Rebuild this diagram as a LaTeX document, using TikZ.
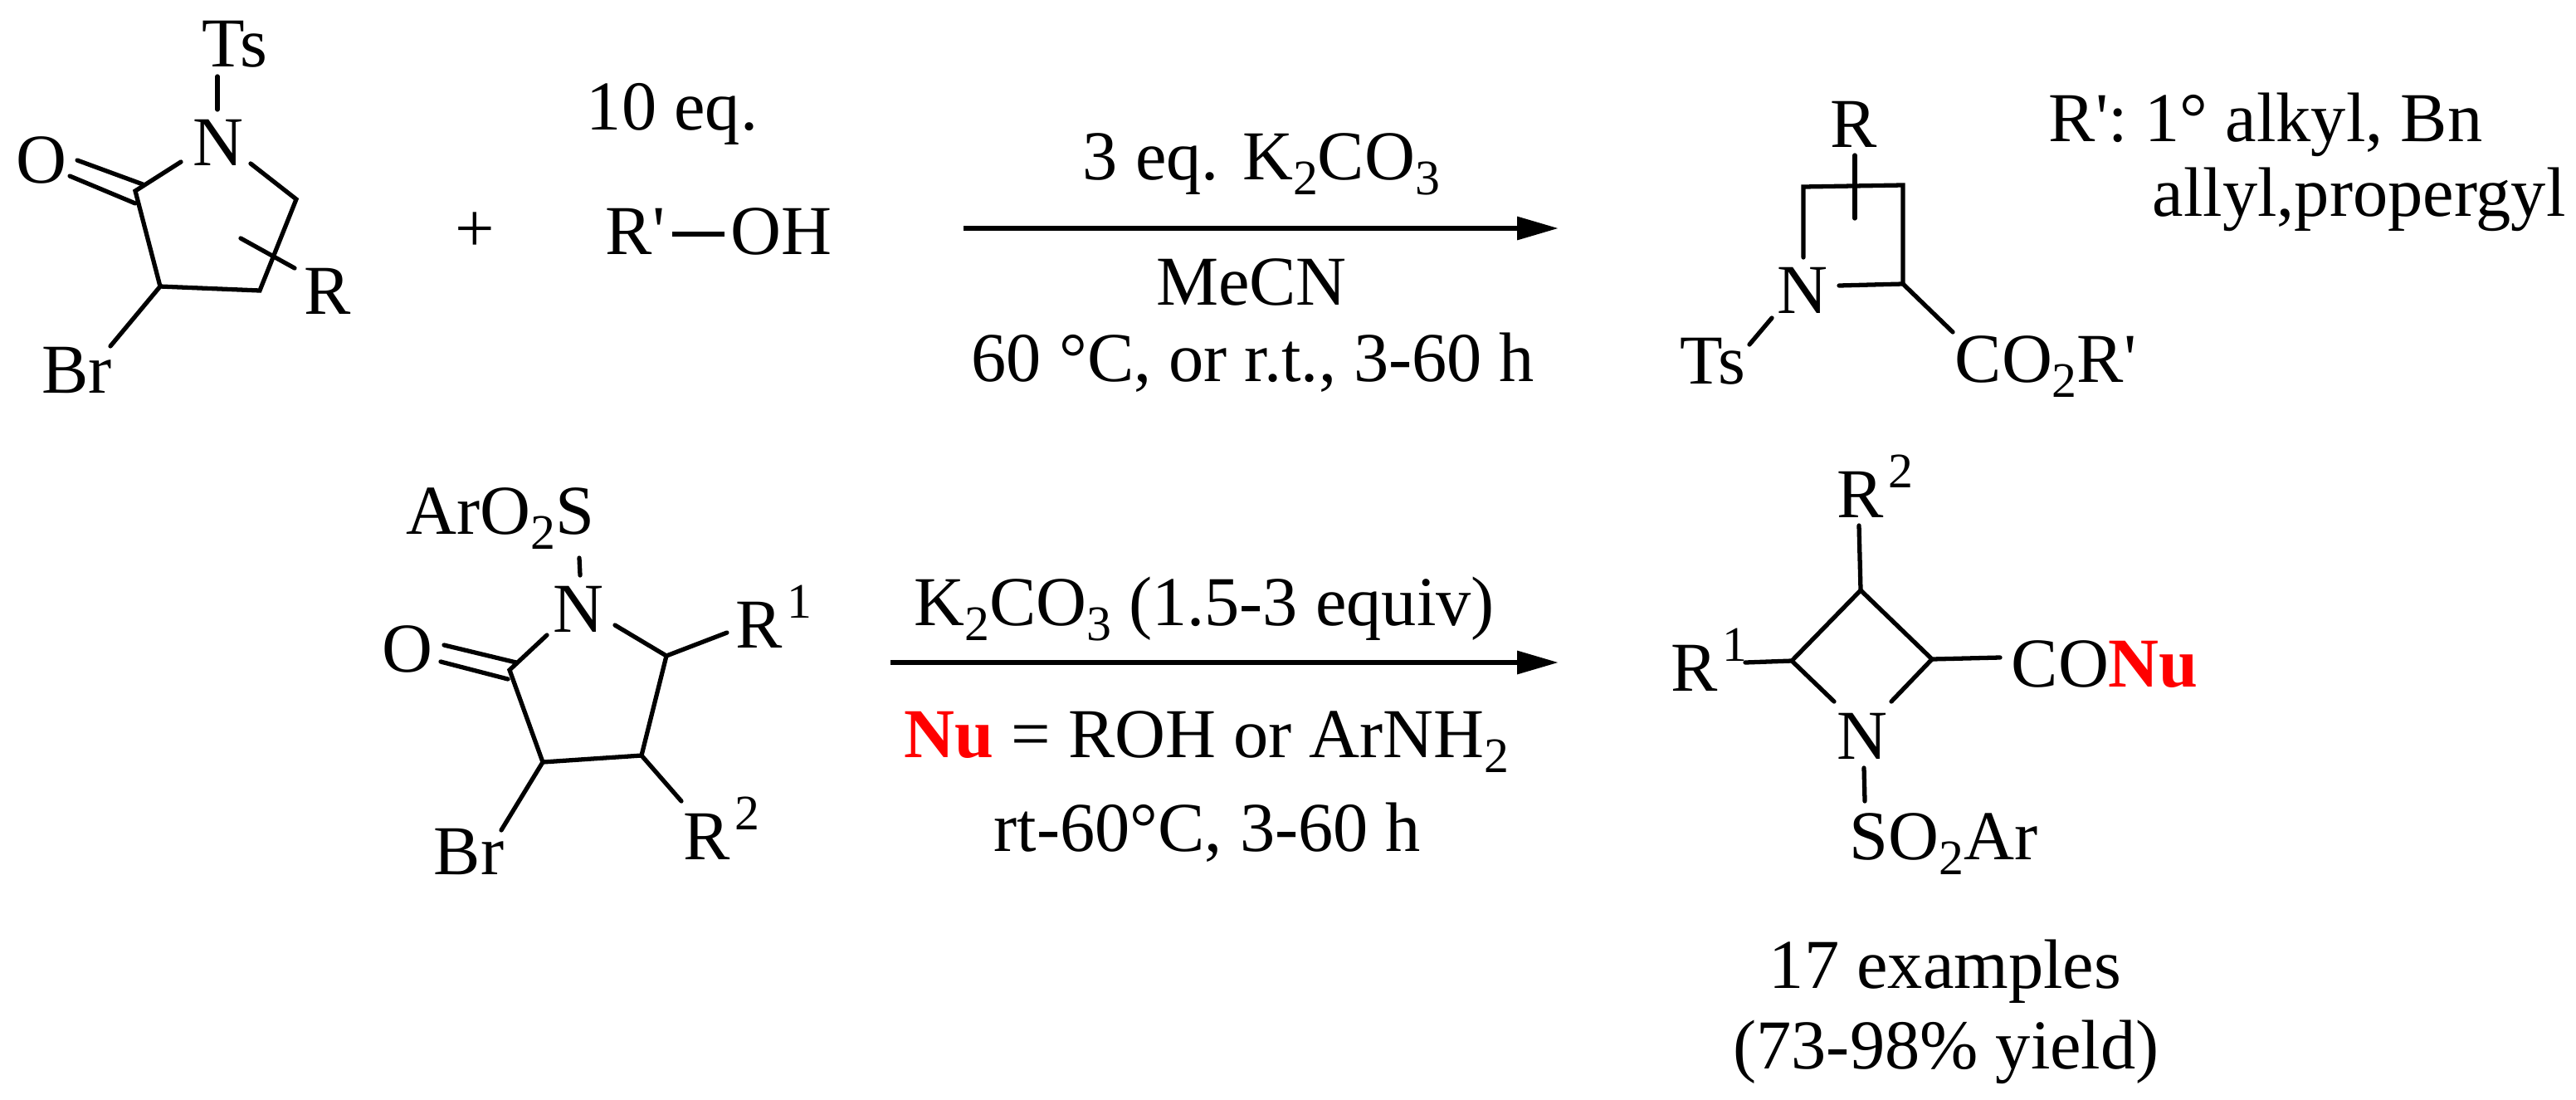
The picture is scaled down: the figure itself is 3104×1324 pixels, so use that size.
\documentclass[tikz,border=0pt]{standalone}
\usepackage{fontspec}
\setmainfont{Liberation Serif}
\usetikzlibrary{arrows.meta}
\newcommand{\supr}[1]{\kern1.5pt\raisebox{0.42em}{\fontsize{17}{17}\selectfont #1}}
\newcommand{\subr}[1]{\raisebox{-0.22em}{\fontsize{17}{17}\selectfont #1}}
\begin{document}
\begin{tikzpicture}[x=0.01cm,y=-0.01cm,
  bond/.style={line width=1.5pt,line cap=round,line join=miter},
  txt/.style={inner sep=0pt,font=\fontsize{24}{28}\selectfont},
  rxn/.style={line width=1.8pt,-{Triangle[length=0.5cm,width=0.27cm]}}]
\useasboundingbox (0,0) rectangle (3104,1324);
% ---------- molecule 1 ----------
\node[txt,anchor=base] (ts1) at (283,80) {Ts};
\node[txt] (n1) at (263,172) {N};
\node[txt] (o1) at (50,193) {O};
\node[txt,anchor=base] (r1) at (395,378) {R};
\node[txt,anchor=base west] (br1) at (50,473) {Br};
\coordinate (a1) at (163,230); \coordinate (a2) at (193,345);
\coordinate (a3) at (313,350); \coordinate (a4) at (357,240);
\coordinate (n1t) at (262,92); \coordinate (n1b) at (262,132);
\coordinate (n1l) at (218,195); \coordinate (n1r) at (302,197);
\coordinate (o1a) at (93,193); \coordinate (o1aa) at (172,222);
\coordinate (o1b) at (84,212); \coordinate (o1bb) at (163,245);
\coordinate (rs) at (290,287); \coordinate (re) at (355,323);
\coordinate (bre) at (133,417);
\draw[bond] (n1t) -- (n1b);
\draw[bond] (n1l) -- (a1) -- (a2) -- (a3) -- (a4) -- (n1r);
\draw[bond] (o1a) -- (o1aa); \draw[bond] (o1b) -- (o1bb);
\draw[bond] (rs) -- (re);
\draw[bond] (a2) -- (bre);
% plus and alcohol
\node[txt] (plus) at (572,280) {+};
\node[txt,anchor=base] (eq10) at (810,156) {10 eq.};
\node[txt,anchor=base west] (rp) at (729,306) {R\textquotesingle};
\node[txt,anchor=base west] (oh) at (880,306) {OH};
\coordinate (ohb1) at (810,282); \coordinate (ohb2) at (873,282);
\draw[bond,line cap=butt] (ohb1) -- (ohb2);
% ---------- arrow 1 ----------
\coordinate (ar1s) at (1161,275); \coordinate (ar1e) at (1878,275);
\draw[rxn] (ar1s) -- (ar1e);
\node[txt,anchor=base] (c1) at (1520,216) {3 eq. K\subr{2}CO\subr{3}};
\node[txt,anchor=base] (c2) at (1508,367) {MeCN};
\node[txt,anchor=base] (c3) at (1510,459) {60 °C, or r.t., 3-60 h};
% ---------- molecule 2 ----------
\coordinate (q1) at (2173,225); \coordinate (q2) at (2293,223);
\coordinate (q3) at (2293,342);
\node[txt] (n2) at (2172,350) {N};
\coordinate (q1e) at (2173,310); \coordinate (n2r) at (2216,344);
\draw[bond] (q1e) -- (q1) -- (q2) -- (q3) -- (n2r);
\node[txt,anchor=base] (r2) at (2234,177) {R};
\coordinate (rb1) at (2235,187); \coordinate (rb2) at (2235,263);
\draw[bond] (rb1) -- (rb2);
\node[txt,anchor=base] (ts2) at (2064,462) {Ts};
\coordinate (tsa) at (2135,383); \coordinate (tsb) at (2108,415);
\draw[bond] (tsa) -- (tsb);
\coordinate (coe) at (2353,400);
\draw[bond] (q3) -- (coe);
\node[txt,anchor=base west] (co2r) at (2355,460) {CO\subr{2}R\textquotesingle};
\node[txt,anchor=base west] (rdef1) at (2468,170) {R\textquotesingle: 1° alkyl, Bn};
\node[txt,anchor=base west] (rdef2) at (2593,260) {allyl,propergyl};
% ---------- molecule 3 ----------
\node[txt,anchor=base west] (so3) at (489,643) {ArO\subr{2}S};
\node[txt] (n3) at (697,734) {N};
\coordinate (s3a) at (698,672); \coordinate (s3b) at (699,693);
\draw[bond] (s3a) -- (s3b);
\coordinate (d1) at (614,807); \coordinate (d2) at (654,918);
\coordinate (d3) at (773,910); \coordinate (d4) at (803,790);
\coordinate (n3l) at (659,765); \coordinate (n3r) at (741,753);
\draw[bond] (n3l) -- (d1) -- (d2) -- (d3) -- (d4) -- (n3r);
\node[txt] (o3) at (491,782) {O};
\coordinate (o3a) at (535,777); \coordinate (o3aa) at (622,798);
\coordinate (o3b) at (531,797); \coordinate (o3bb) at (612,818);
\draw[bond] (o3a) -- (o3aa); \draw[bond] (o3b) -- (o3bb);
\coordinate (r13) at (876,762);
\draw[bond] (d4) -- (r13);
\node[txt,anchor=base west] (r1m3) at (886,780) {R\supr{1}};
\coordinate (br3) at (604,1000);
\draw[bond] (d2) -- (br3);
\node[txt,anchor=base west] (br3t) at (522,1053) {Br};
\coordinate (r23) at (821,965);
\draw[bond] (d3) -- (r23);
\node[txt,anchor=base west] (r2m3) at (823,1035) {R\supr{2}};
% ---------- arrow 2 ----------
\coordinate (ar2s) at (1073,798); \coordinate (ar2e) at (1878,798);
\draw[rxn] (ar2s) -- (ar2e);
\node[txt,anchor=base] (k1) at (1451,753) {K\subr{2}CO\subr{3} (1.5-3 equiv)};
\node[txt,anchor=base] (k2) at (1454,912) {\textcolor{red}{\textbf{Nu}} = ROH or ArNH\subr{2}};
\node[txt,anchor=base] (k3) at (1455,1025) {rt-60°C, 3-60 h};
% ---------- molecule 4 ----------
\coordinate (t4) at (2242,711); \coordinate (l4) at (2159,796);
\coordinate (r4) at (2328,794);
\node[txt] (n4) at (2244,887) {N};
\coordinate (n4l) at (2210,845); \coordinate (n4r) at (2279,845);
\draw[bond] (n4l) -- (l4) -- (t4) -- (r4) -- (n4r);
\coordinate (r2b) at (2240,633);
\draw[bond] (t4) -- (r2b);
\node[txt,anchor=base west] (r2m4) at (2213,623) {R\supr{2}};
\coordinate (r1b) at (2103,798);
\draw[bond] (l4) -- (r1b);
\node[txt,anchor=base west] (r1m4) at (2013,832) {R\supr{1}};
\coordinate (cob) at (2410,792);
\draw[bond] (r4) -- (cob);
\node[txt,anchor=base west] (conu) at (2423,827) {CO\textcolor{red}{\textbf{Nu}}};
\coordinate (sa) at (2246,925); \coordinate (sb) at (2247,965);
\draw[bond] (sa) -- (sb);
\node[txt,anchor=base west] (so4) at (2228,1035) {SO\subr{2}Ar};
\node[txt,anchor=base] (ex1) at (2344,1190) {17 examples};
\node[txt,anchor=base] (ex2) at (2345,1287) {(73-98\% yield)};
\end{tikzpicture}
\end{document}
